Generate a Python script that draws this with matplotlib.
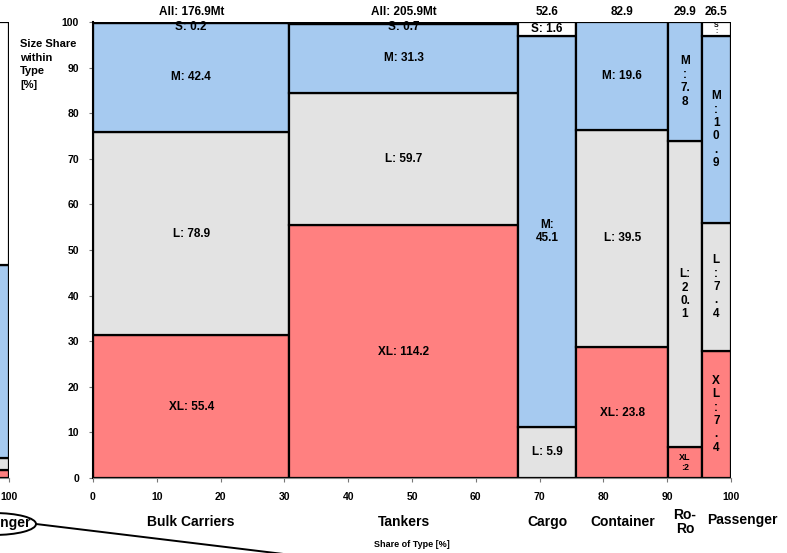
import matplotlib
matplotlib.use('agg')
import matplotlib.pyplot as plt
from matplotlib.patches import Ellipse
from matplotlib.lines import Line2D
import numpy as np

# ship types and totals [Mt]
types = ['Bulk Carriers', 'Tankers', 'Cargo', 'Container', 'Ro-\nRo', 'Passenger']
top_labels = ['All: 176.9Mt', 'All: 205.9Mt', '52.6', '82.9', '29.9', '26.5']

# size classes, bottom to top
sizes = ['XL', 'L', 'M', 'S']
xl = [55.4, 114.2, 0.0, 23.8, 2.0, 7.4]
l  = [78.9, 59.7, 5.9, 39.5, 20.1, 7.4]
m  = [42.4, 31.3, 45.1, 19.6, 7.8, 10.9]
s  = [0.2, 0.7, 1.6, 0.0, 0.0, 0.8]
colors = {'XL': '#ff8080', 'L': '#e3e3e3', 'M': '#a6caf0', 'S': '#ffffff'}

# labels for the narrow columns, wrapped like in the original
wrapped = {
    (4, 'XL'): 'XL\n:2', (4, 'L'): 'L:\n2\n0.\n1', (4, 'M'): 'M\n:\n7.\n8',
    (5, 'XL'): 'X\nL\n:\n7\n.\n4', (5, 'L'): 'L\n:\n7\n.\n4',
    (5, 'M'): 'M\n:\n1\n0\n.\n9', (5, 'S'): 'S\n:',
    (2, 'M'): 'M:\n45.1',
}

# neighbouring chart (only its last column is visible), shares in %
left_sizes = ['XL', 'L', 'M', 'S']
left_vals = [1.7, 2.7, 42.3, 53.3]

fam = ['Liberation Sans Narrow', 'Liberation Sans', 'DejaVu Sans']
plt.rcParams['font.family'] = fam
plt.rcParams['font.weight'] = 'bold'

W, H = 787, 553
fig = plt.figure(figsize=(W / 100, H / 100), dpi=100)
ax = fig.add_axes([93 / W, 1 - 478 / H, 638 / W, 456 / H])

vals = np.array([xl, l, m, s])
totals = vals.sum(axis=0)
widths = totals / totals.sum() * 100
lefts = np.concatenate([[0], np.cumsum(widths)[:-1]])

for i in range(len(types)):
    bottom = 0.0
    for k, sz in enumerate(sizes):
        v = vals[k, i]
        if v <= 0:
            continue
        h = v / totals[i] * 100
        ax.bar(lefts[i], h, width=widths[i], bottom=bottom, align='edge',
               color=colors[sz], edgecolor='black', linewidth=1.6, zorder=2)
        lab = wrapped.get((i, sz), f'{sz}: {v:g}')
        fs = 6.5 if (i, sz) == (4, 'XL') else 8.5
        yc = bottom + h / 2
        if sz == 'S' and i < 2:
            # label sits just under the top edge
            ax.text(lefts[i] + widths[i] / 2, 98.8, lab, ha='center', va='center',
                    fontsize=fs, fontweight='bold', zorder=3)
        elif sz == 'S' and i == 5:
            ax.text(lefts[i] + widths[i] / 2, yc, lab, ha='center', va='center',
                    fontsize=5, fontweight='bold', zorder=3, linespacing=0.8)
        else:
            ax.text(lefts[i] + widths[i] / 2, yc, lab, ha='center', va='center',
                    fontsize=fs, fontweight='bold', zorder=3, linespacing=1.15)
        bottom += h
    ax.text(lefts[i] + widths[i] / 2, 100.9, top_labels[i], ha='center', va='bottom',
            fontsize=8.5, fontweight='bold', clip_on=False)

ax.set_xlim(0, 100)
ax.set_ylim(0, 100)
ax.set_xticks(np.arange(0, 101, 10))
ax.set_yticks(np.arange(0, 101, 10))
ax.tick_params(labelsize=7.5, length=3, width=0.8, color='#777777', pad=7)
for sp in ['top', 'right']:
    ax.spines[sp].set_visible(False)
ax.spines['left'].set_linewidth(1.5)
ax.spines['bottom'].set_color('#888888')

# category names under the x axis
for i, name in enumerate(types):
    if name == 'Passenger':
        ax.text(lefts[i] + 0.8, -9.3, name, ha='left', va='center', fontsize=10,
                fontweight='bold', clip_on=False)
    else:
        ax.text(lefts[i] + widths[i] / 2, -9.6, name, ha='center', va='center',
                fontsize=10, fontweight='bold', clip_on=False, linespacing=1.05)
ax.text(50, -14.5, 'Share of Type [%]', ha='center', va='center', fontsize=6.5,
        fontweight='bold', clip_on=False)

fig.text(20 / W, 1 - 39 / H, 'Size Share\nwithin\nType\n[%]', ha='left', va='top',
         fontsize=8, fontweight='bold', linespacing=1.45)

# part of the neighbouring chart at the left edge
ax0 = fig.add_axes([(9 - 638) / W, 1 - 478 / H, 638 / W, 456 / H])
b = 0.0
for sz, v in zip(left_sizes, left_vals):
    ax0.bar(96, v, width=4, bottom=b, align='edge', color=colors[sz],
            edgecolor='black', linewidth=1.6)
    b += v
ax0.set_xlim(0, 100)
ax0.set_ylim(0, 100)
ax0.set_xticks([100])
ax0.set_yticks([])
ax0.tick_params(labelsize=7.5, length=3, color='#777777', pad=7)
for sp in ['top', 'right', 'left']:
    ax0.spines[sp].set_visible(False)
ax0.spines['bottom'].set_color('#888888')

fig.text(31 / W, 1 - 523 / H, 'Passenger', ha='right', va='center', fontsize=10,
         fontweight='bold')
fig.add_artist(Ellipse((-6 / W, 1 - 524 / H), 84 / W, 22 / H, transform=fig.transFigure,
                       fill=False, edgecolor='black', linewidth=1.4))
fig.add_artist(Line2D([36 / W, 300 / W], [1 - 524 / H, 1 - 556 / H],
                      transform=fig.transFigure, color='black', linewidth=1.4))

fig.savefig('out.png', dpi=100)
